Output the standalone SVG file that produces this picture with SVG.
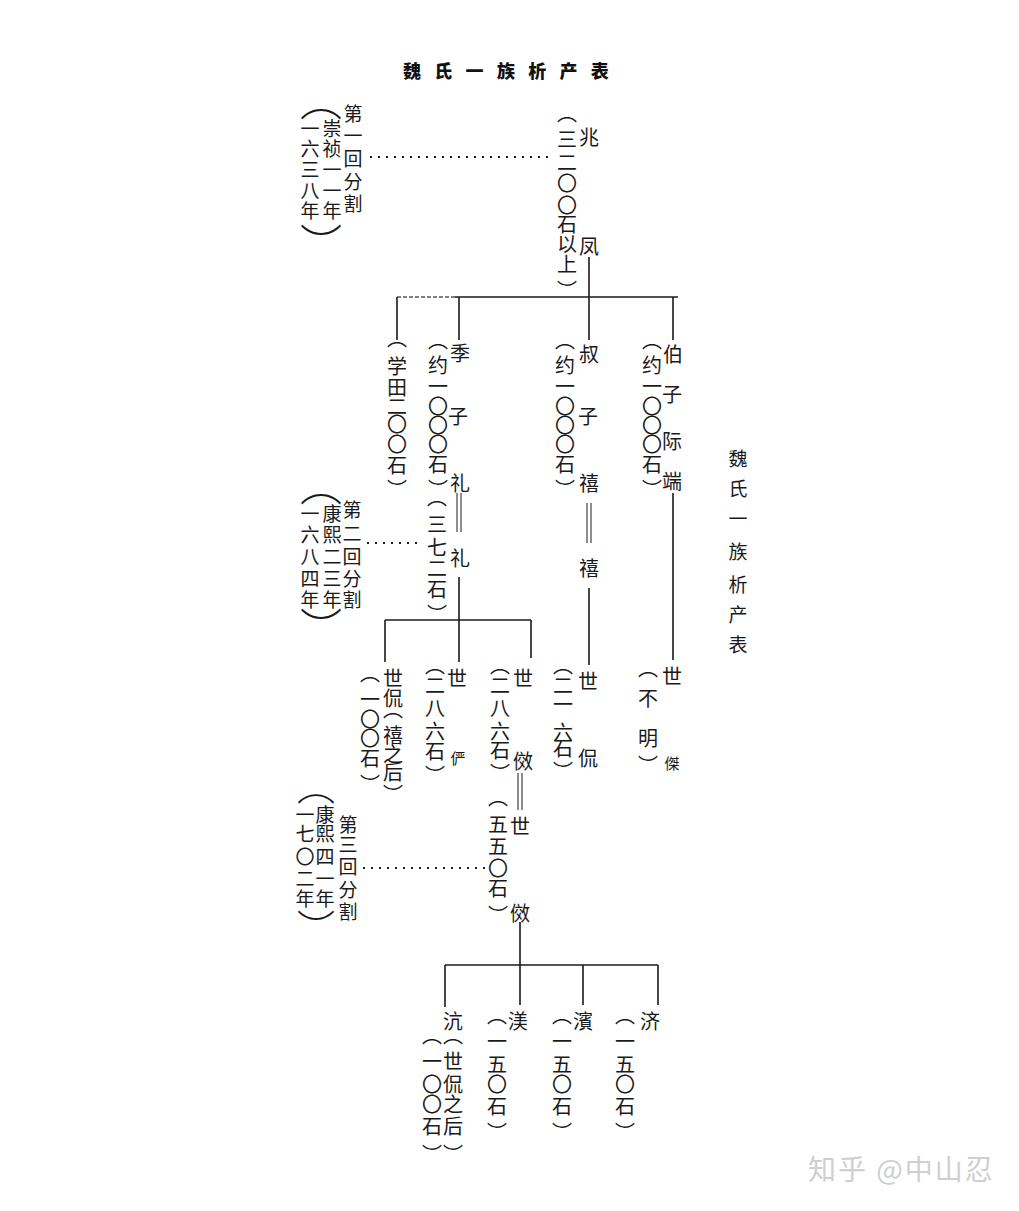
<svg xmlns="http://www.w3.org/2000/svg" width="1019" height="1211" viewBox="0 0 1019 1211">
<style>
.t{font-family:"Noto Sans CJK SC","Noto Sans CJK TC",sans-serif;font-size:20px;fill:#1a1a1a;text-anchor:middle;dominant-baseline:central}
.a{font-size:19px}
.sm{font-size:15px}
.bp{font-size:42px;font-weight:300}
.bp3{font-size:38px;font-weight:300}
.ln{stroke:#1a1a1a;stroke-width:1.6;fill:none}
.th{stroke-width:1}
.dot{stroke:#1a1a1a;stroke-width:2.2;stroke-dasharray:2 6;fill:none}
.dash{stroke:#555;stroke-width:1.4;stroke-dasharray:4 2;fill:none}
.title{font-family:"Noto Sans CJK SC",sans-serif;font-size:18px;font-weight:900;fill:#111;letter-spacing:13.3px}
.wm{font-family:"Noto Sans CJK SC",sans-serif;font-size:28px;fill:#cfcfcf;letter-spacing:2px}
</style>
<rect width="1019" height="1211" fill="#ffffff"/>
<text class="title" x="403" y="78">魏氏一族析产表</text>

<g id="connectors">
<line class="dot" x1="370" y1="157" x2="552" y2="157"/>
<line class="ln" x1="589" y1="257" x2="589" y2="340"/>
<line class="dash" x1="397" y1="297" x2="455" y2="297"/>
<line class="ln" x1="455" y1="297" x2="678" y2="297"/>
<line class="ln" x1="397" y1="297" x2="397" y2="340"/>
<line class="ln" x1="459" y1="297" x2="459" y2="340"/>
<line class="ln" x1="673" y1="297" x2="673" y2="340"/>
<line class="ln th" x1="457" y1="493" x2="457" y2="532"/>
<line class="ln th" x1="461" y1="493" x2="461" y2="532"/>
<line class="ln" x1="459" y1="577" x2="459" y2="662"/>
<line class="dot" x1="367" y1="543" x2="423" y2="543"/>
<line class="ln" x1="385" y1="620" x2="531" y2="620"/>
<line class="ln" x1="385" y1="620" x2="385" y2="662"/>
<line class="ln" x1="531" y1="620" x2="531" y2="658"/>
<line class="ln th" x1="587" y1="503" x2="587" y2="543"/>
<line class="ln th" x1="591" y1="503" x2="591" y2="543"/>
<line class="ln" x1="589" y1="588" x2="589" y2="665"/>
<line class="ln" x1="673" y1="493" x2="673" y2="660"/>
<line class="ln th" x1="518" y1="773" x2="518" y2="810"/>
<line class="ln th" x1="522" y1="773" x2="522" y2="810"/>
<line class="dot" x1="363" y1="868" x2="487" y2="868"/>
<line class="ln" x1="520" y1="922" x2="520" y2="1005"/>
<line class="ln" x1="445" y1="965" x2="658" y2="965"/>
<line class="ln" x1="445" y1="965" x2="445" y2="1007"/>
<line class="ln" x1="583" y1="965" x2="583" y2="1005"/>
<line class="ln" x1="658" y1="965" x2="658" y2="1005"/>
</g>

<g id="split1">
<text class="t a" x="353 353 353 353 353 321 332 332 332 332 332 310 310 310 310 310 321" y="112 134 157 180 202 97 127 147 168 189 209 127 147 168 189 209 241">第一回分割<tspan class="bp">︵</tspan>崇祯一一年一六三八年<tspan class="bp">︶</tspan></text>
</g>

<g id="zhaofeng">
<text class="t" x="589 589 567 567 567 567 567 567 567 567 567" y="136 245 112 138 161 182 204 223 243 263 289">兆凤︵三二〇〇石以上︶</text>
</g>

<g id="xuetian">
<text class="t" x="397 397 397 397 397 397 397 397" y="337 365 386 405 423 443 464 488">︵学田二〇〇石︶</text>
</g>

<g id="jizi">
<text class="t" x="460 458 460 438 438 438 438 438 438 438 438" y="352 415 482 339 364 385 405 424 443 463 488">季子礼︵约一〇〇〇石︶</text>
</g>

<g id="shuzi">
<text class="t" x="589 588 589 565 565 565 565 565 565 565 565" y="353 415 482 339 364 385 405 424 443 463 488">叔子禧︵约一〇〇〇石︶</text>
</g>

<g id="bozi">
<text class="t" x="673 672 672 672 652 652 652 652 652 652 652 652" y="353 393 440 480 339 364 385 405 424 443 463 488">伯子际端︵约一〇〇〇石︶</text>
</g>

<g id="li2">
<text class="t" x="460 437 437 437 437 437 437" y="557 496 523 546 567 588 613">礼︵三七二石︶</text>
</g>

<g id="xi2">
<text class="t" x="589" y="567">禧</text>
</g>

<g id="split2">
<text class="t a" x="352 352 352 352 352 321 332 332 332 332 332 310 310 310 310 310 321" y="508 532 555 577 598 482 512 533 555 577 598 512 533 555 577 598 625">第二回分割<tspan class="bp">︵</tspan>康熙二三年一六八四年<tspan class="bp">︶</tspan></text>
</g>

<g id="shikan1">
<text class="t" x="393 393 393 393 393 393 393 370 370 370 370 370 370" y="677 697 708 734 753 771 793 672 698 718 737 757 783">世侃︵禧之后︶︵一〇〇石︶</text>
</g>

<g id="shiyan">
<text class="t" x="457 458 435 435 435 435 435 435" y="677 757 664 684 707 730 750 774">世<tspan class="sm">俨</tspan>︵二八六石︶</text>
</g>

<g id="shixiao1">
<text class="t" x="523 523 500 500 500 500 500 500" y="677 760 664 684 707 730 749 772">世傚︵二八六石︶</text>
</g>

<g id="shikan2">
<text class="t" x="588 588 563 563 563 563 563 563" y="680 757 664 684 703 731 747 770">世侃︵二一六石︶</text>
</g>

<g id="shijie">
<text class="t" x="672 672 648 648 648 648" y="675 762 667 697 737 764">世<tspan class="sm">傑</tspan>︵不明︶</text>
</g>

<g id="shixiao2">
<text class="t" x="520 520 498 498 498 498 498 498" y="825 912 796 823 845 867 887 914">世傚︵五五〇石︶</text>
</g>

<g id="split3">
<text class="t a" x="348 348 348 348 348 316 325 325 325 325 325 305 305 305 305 305 316" y="823 843 865 888 910 783 813 832 855 877 897 813 832 855 877 897 925">第三回分割<tspan class="bp3">︵</tspan>康熙四一年一七〇二年<tspan class="bp3">︶</tspan></text>
</g>

<g id="hang">
<text class="t" x="453 453 453 453 453 453 453 432 432 432 432 432 432" y="1020 1034 1060 1083 1103 1125 1153 1034 1060 1083 1103 1125 1153">沆︵世侃之后︶︵一〇〇石︶</text>
</g>

<g id="mei">
<text class="t" x="518 497 497 497 497 497 497" y="1020 1014 1040 1063 1083 1105 1131">渼︵一五〇石︶</text>
</g>

<g id="bin">
<text class="t" x="583 562 562 562 562 562 562" y="1020 1014 1040 1063 1083 1105 1131">濱︵一五〇石︶</text>
</g>

<g id="ji">
<text class="t" x="650 625 625 625 625 625 625" y="1020 1014 1040 1063 1083 1105 1131">济︵一五〇石︶</text>
</g>

<g id="side-title">
<text class="t a" x="738 738 738 738 738 738 738" y="457 487 517 550 583 613 643">魏氏一族析产表</text>
</g>

<text class="wm" x="808" y="1180">知乎 @中山忍</text>
</svg>
